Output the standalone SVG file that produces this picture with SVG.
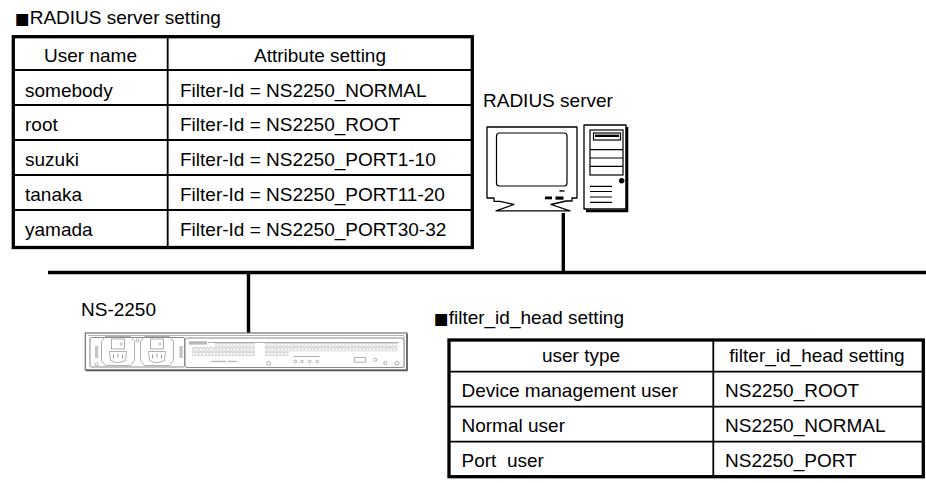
<svg xmlns="http://www.w3.org/2000/svg" width="926" height="483" viewBox="0 0 926 483">
  <style>
    text { font-family: "Liberation Sans", Arial, sans-serif; font-size: 19px; fill: #000; }
    .mid { text-anchor: middle; }
    .sq { font-family: "DejaVu Sans", sans-serif; font-size: 15.5px; }
    .outer { fill: #fff; stroke: #000; stroke-width: 3.3; }
    .grid { stroke: #000; stroke-width: 1.8; fill: none; }
    .wire { stroke: #000; stroke-width: 3.4; fill: none; }
    .pc { fill: #fff; stroke: #000; stroke-width: 1.3; stroke-linejoin: round; }
    .pcl { stroke: #000; stroke-width: 1.2; fill: none; }
    .dev { fill: #fff; stroke: #8a8a8a; stroke-width: 1; }
    .devl { fill: none; stroke: #9a9a9a; stroke-width: 0.8; }
  </style>
  <defs>
    <pattern id="holes" width="3.4" height="4.6" patternUnits="userSpaceOnUse">
      <ellipse cx="1.7" cy="2.3" rx="1.2" ry="1.5" fill="none" stroke="#a0a0a0" stroke-width="0.6"/>
    </pattern>
    <g id="inlet">
      <path class="devl" d="M4,0 H29 L33,5 V24 L29,29 H4 L0,24 V5 Z"/>
      <rect class="devl" x="10" y="2.5" width="13" height="10" />
      <circle cx="19.5" cy="7.5" r="1.2" fill="none" stroke="#999" stroke-width="0.6"/>
      <path class="devl" d="M8,15 H25 L24,24 Q16.5,28 9,24 Z"/>
      <path d="M12,18 v4 M16.5,17 v4 M21,18 v4" stroke="#999" stroke-width="1"/>
    </g>
  </defs>

  <!-- RADIUS server user table -->
  <g id="radius-table">
    <text x="15" y="24"><tspan class="sq">■</tspan>RADIUS server setting</text>
    <rect class="outer" x="13.3" y="36.7" width="459" height="210.8"/>
    <path class="grid" d="M13,70 H472 M13,105 H472 M13,140 H472 M13,175 H472 M13,210 H472 M167.7,37 V247"/>
    <text class="mid" x="90.5" y="61.5">User name</text>
    <text class="mid" x="320" y="61.5">Attribute setting</text>
    <text x="25" y="96.5">somebody</text>
    <text x="180" y="96.5">Filter-Id = NS2250_NORMAL</text>
    <text x="25" y="131">root</text>
    <text x="180" y="131">Filter-Id = NS2250_ROOT</text>
    <text x="25" y="166">suzuki</text>
    <text x="180" y="166">Filter-Id = NS2250_PORT1-10</text>
    <text x="25" y="200.5">tanaka</text>
    <text x="180" y="200.5">Filter-Id = NS2250_PORT11-20</text>
    <text x="25" y="235.5">yamada</text>
    <text x="180" y="235.5">Filter-Id = NS2250_PORT30-32</text>
  </g>

  <!-- filter_id_head table -->
  <g id="filter-table">
    <text x="434" y="324"><tspan class="sq">■</tspan>filter_id_head setting</text>
    <rect class="outer" x="449" y="340" width="474.3" height="136.7"/>
    <path class="grid" d="M449,371.7 H923 M449,406.7 H923 M449,441.7 H923 M713.3,340 V476.7"/>
    <text class="mid" x="581" y="361.5">user type</text>
    <text class="mid" x="817" y="361.5">filter_id_head setting</text>
    <text x="461.5" y="396.5">Device management user</text>
    <text x="725" y="396.5">NS2250_ROOT</text>
    <text x="461.5" y="431.5">Normal user</text>
    <text x="725" y="431.5">NS2250_NORMAL</text>
    <text x="461.5" y="466.5" style="white-space:pre">Port  user</text>
    <text x="725" y="466.5">NS2250_PORT</text>
  </g>

  <!-- network wiring -->
  <g id="connectors">
    <line class="wire" x1="48" y1="272.5" x2="926" y2="272.5"/>
    <line class="wire" x1="563.3" y1="213" x2="563.3" y2="272.5"/>
    <line class="wire" x1="248.5" y1="272.5" x2="248.5" y2="333"/>
  </g>

  <!-- RADIUS server: monitor and tower -->
  <g id="radius-server">
    <text x="483" y="107">RADIUS server</text>
    <path class="pc" d="M487,127 H577 V198 H572 V201 H566 L551,204.5 L570,210.8 H496 L514,204.5 L500,201.3 H494 V198 H487 Z"/>
    <rect class="pcl" x="496.5" y="133" width="70.5" height="53" rx="3"/>
    <rect x="545" y="196.5" width="7" height="2.8" fill="#000"/>
    <rect x="555.5" y="196.5" width="8" height="3.2" fill="#000"/>
    <rect x="559.5" y="190.2" width="5" height="1.4" fill="#000"/>
    <rect class="pc" x="584" y="125" width="42" height="84"/>
    <path d="M627,127 V211 H586" stroke="#000" stroke-width="2.6" fill="none"/>
    <rect class="pcl" x="590" y="130" width="33" height="45"/>
    <rect class="pcl" x="593.5" y="133" width="27" height="7" stroke-width="0.9"/>
    <rect x="595" y="134.6" width="24" height="2.4" fill="#000"/>
    <path class="pcl" d="M590,149.7 H623 M590,158 H623 M590,166.3 H623" stroke-width="1"/>
    <circle cx="621.7" cy="180.7" r="2.7" fill="#000"/>
    <path class="pcl" d="M590,186.3 H612 M590,191.5 H612 M590,197 H612 M590,202.3 H612"/>
  </g>

  <!-- NS-2250 console server, rear panel -->
  <g id="ns2250">
    <text x="81" y="316">NS-2250</text>
    <rect x="85.3" y="333" width="321.7" height="37" fill="#fff" stroke="#6e6e6e" stroke-width="1.2"/>
    <path d="M407,334 V370.5 H86" stroke="#555" stroke-width="1.4" fill="none"/>
    <path class="devl" d="M88,335.5 H404 M404,335.5 V368"/>
    <!-- power supply bay -->
    <rect class="dev" x="90" y="337.5" width="94.5" height="29.5" rx="1.5"/>
    <use href="#inlet" x="101.5" y="336.5"/>
    <use href="#inlet" x="140.5" y="336.5"/>
    <rect x="95" y="346" width="3.2" height="12" fill="#c4c4c4"/>
    <rect x="179.5" y="346" width="3.2" height="12" fill="#c4c4c4"/>
    <circle cx="96.5" cy="364.5" r="1.6" class="devl"/>
    <circle cx="137.5" cy="340.5" r="1.5" class="devl"/>
    <!-- serial port section -->
    <rect class="dev" x="185" y="338" width="219" height="29.5" rx="2"/>
    <rect x="189" y="341.2" width="18" height="3.4" fill="#b8b8b8"/>
    <path class="devl" d="M208,342.5 H398.7"/>
    <rect x="215" y="342.2" width="40" height="4.4" fill="url(#holes)"/>
    <rect x="192" y="346.8" width="63" height="9.2" fill="url(#holes)"/>
    <rect x="264.7" y="342.2" width="132.6" height="9.2" fill="url(#holes)"/>
    <rect x="264.7" y="351.4" width="23.8" height="4.6" fill="url(#holes)"/>
    <path d="M211,361.5 H226 M228,361.5 H237" stroke="#bcbcbc" stroke-width="1.6"/>
    <circle cx="268.7" cy="363.5" r="2" class="devl"/>
    <path class="devl" d="M293.5,356.5 H319.5"/>
    <circle cx="295.3" cy="361.5" r="1.3" class="devl"/>
    <circle cx="302" cy="361.5" r="1.3" class="devl"/>
    <circle cx="309.7" cy="361.5" r="1.3" class="devl"/>
    <circle cx="317.3" cy="361.5" r="1.3" class="devl"/>
    <rect class="devl" x="354.7" y="357.3" width="10.6" height="4.8"/>
    <circle cx="375.3" cy="359.8" r="1.6" class="devl"/>
    <circle cx="385.3" cy="363" r="1.6" class="devl"/>
    <circle cx="397" cy="363.2" r="2" class="devl"/>
  </g>
</svg>
